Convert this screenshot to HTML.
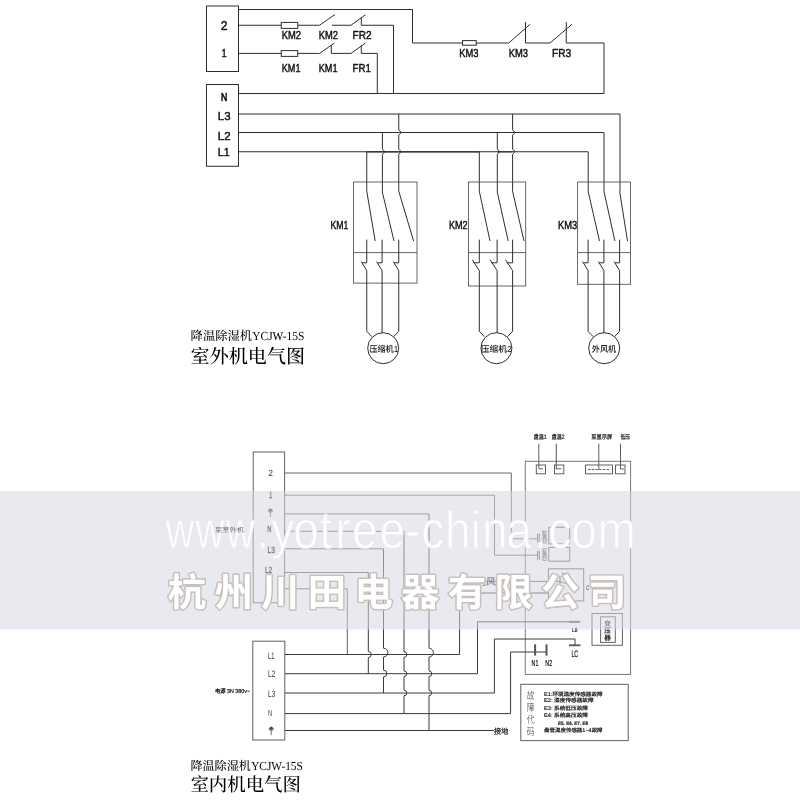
<!DOCTYPE html>
<html lang="zh-CN">
<head>
<meta charset="utf-8">
<title>降温除湿机YCJW-15S 电气图</title>
<style>
html,body{margin:0;padding:0;background:#fff;}
body{width:800px;height:800px;overflow:hidden;}
svg{display:block;}
text{text-rendering:geometricPrecision;}
svg g, svg text{will-change:opacity;}
.s{font-family:"Liberation Sans","Noto Sans CJK SC",sans-serif;}
.k{font-family:"Liberation Sans","Noto Sans CJK SC",sans-serif;}
.f{font-family:"Liberation Serif","Noto Serif CJK SC",serif;}
.b{font-weight:bold;}
.wb{font-weight:500;}
path,rect,circle{vector-effect:none;}
</style>
</head>
<body>
<svg width="800" height="800" viewBox="0 0 800 800">
<rect width="800" height="800" fill="#fff"/>
<g id="outdoor" fill="none" stroke="#2e2e2e">
<rect x="206.5" y="6" width="32" height="65.5" stroke-width="1" fill="none"/>
<rect x="206.5" y="84.5" width="32" height="81.75" stroke-width="1" fill="none"/>
<path d="M238.5 9.5 L412.5 9.5 L412.5 43 L462.5 43" stroke-width="1"/>
<rect x="462.5" y="40.6" width="13.75" height="4.6" stroke-width="1" fill="none"/>
<path d="M476.25 43 L508.75 43 L530 24.25" stroke-width="1"/>
<path d="M525.5 22 L525.5 43 L550 43 L572 24.25" stroke-width="1"/>
<path d="M566.25 22 L566.25 43 L604 43 L604 93.5" stroke-width="1"/>
<path d="M238.5 25.25 L281.25 25.25" stroke-width="1"/>
<rect x="281.25" y="22.4" width="16.5" height="6" stroke-width="1" fill="none"/>
<path d="M297.75 25.25 L319.5 25.25 L335 14.5" stroke-width="1"/>
<path d="M332 25.25 L351 25.25 L365.5 14.8" stroke-width="1"/>
<path d="M361.3 17.5 L361.3 25.25 L393.5 25.25 L393.5 93.5" stroke-width="1"/>
<path d="M238.5 53.4 L281.25 53.4" stroke-width="1"/>
<rect x="281.25" y="50.6" width="16.5" height="5.8" stroke-width="1" fill="none"/>
<path d="M297.75 53.4 L319.5 53.4 L334.5 43" stroke-width="1"/>
<path d="M331.3 45 L331.3 53.4 L351 53.4 L365.5 43" stroke-width="1"/>
<path d="M361.3 45.5 L361.3 53.4 L377.3 53.4 L377.3 93.5" stroke-width="1"/>
<path d="M238.5 93.5 L604 93.5" stroke-width="1"/>
<path d="M238.5 114 L620 114 L620 191.2" stroke-width="1"/>
<path d="M238.5 132.5 L604 132.5 L604 191.2" stroke-width="1"/>
<path d="M238.5 151.75 L588.2 151.75 L588.2 191.2" stroke-width="1"/>
<path d="M366.75 151.9 L479.3 151.9" stroke-width="1.1"/>
<path d="M497.3 151.9 L512.6 151.9" stroke-width="1.1"/>
<path d="M366.75 151.75 L366.75 191.2" stroke-width="1"/>
<path d="M382.4 132.5 L382.4 149.15 L384.4 151.15 L384.4 152.35 L382.4 154.35 L382.4 191.2" stroke-width="1"/>
<path d="M398.75 114 L398.75 129.9 L400.75 131.9 L400.75 133.1 L398.75 135.1 L398.75 149.15 L400.75 151.15 L400.75 152.35 L398.75 154.35 L398.75 191.2" stroke-width="1"/>
<path d="M479.3 151.75 L479.3 191.2" stroke-width="1"/>
<path d="M497.3 132.5 L497.3 149.15 L499.3 151.15 L499.3 152.35 L497.3 154.35 L497.3 191.2" stroke-width="1"/>
<path d="M512.6 114 L512.6 129.9 L514.6 131.9 L514.6 133.1 L512.6 135.1 L512.6 149.15 L514.6 151.15 L514.6 152.35 L512.6 154.35 L512.6 191.2" stroke-width="1"/>
<rect x="353.5" y="182" width="63.5" height="101.1" stroke="#555" stroke-width="0.9"/>
<path d="M353.5 252.6 L417 252.6" stroke-width="0.9" stroke="#555"/>
<path d="M366.75 191.2 L375.2 241" stroke-width="1"/>
<path d="M366.75 239.6 L366.75 262.8 L362.25 262.8" stroke-width="1"/>
<path d="M361.25 261.6 L366.75 270.6 L366.75 331.3" stroke-width="1"/>
<path d="M382.1 191.2 L394 241" stroke-width="1"/>
<path d="M382.1 239.6 L382.1 262.8 L377.6 262.8" stroke-width="1"/>
<path d="M376.6 261.6 L382.1 270.6 L382.1 331.3" stroke-width="1"/>
<path d="M398.75 191.2 L413.6 241" stroke-width="1"/>
<path d="M398.75 239.6 L398.75 262.8 L394.25 262.8" stroke-width="1"/>
<path d="M393.25 261.6 L398.75 270.6 L398.75 331.3" stroke-width="1"/>
<path d="M382.1 331 L382.1 333" stroke-width="1"/>
<path d="M366.75 331.3 L371.75 336.6" stroke-width="1"/>
<path d="M398.75 331.3 L393.75 336.6" stroke-width="1"/>
<circle cx="383.2" cy="348.2" r="15.5" stroke-width="1.0"/>
<rect x="468.5" y="182" width="57.2" height="104" stroke="#555" stroke-width="0.9"/>
<path d="M468.5 252.6 L525.7 252.6" stroke-width="0.9" stroke="#555"/>
<path d="M479.3 191.2 L490 241" stroke-width="1"/>
<path d="M479.3 239.6 L479.3 262.8 L473.3 262.8" stroke-width="1"/>
<path d="M472.3 259.8 L479.3 270.6 L479.3 331.3" stroke-width="1"/>
<path d="M497.1 191.2 L508.2 241" stroke-width="1"/>
<path d="M497.1 239.6 L497.1 262.8 L491.1 262.8" stroke-width="1"/>
<path d="M490.1 259.8 L497.1 270.6 L497.1 331.3" stroke-width="1"/>
<path d="M512.6 191.2 L524 241" stroke-width="1"/>
<path d="M512.6 239.6 L512.6 262.8 L506.6 262.8" stroke-width="1"/>
<path d="M505.6 259.8 L512.6 270.6 L512.6 331.3" stroke-width="1"/>
<path d="M497.1 331 L497.1 333" stroke-width="1"/>
<path d="M479.3 331.3 L484.3 336.6" stroke-width="1"/>
<path d="M512.6 331.3 L507.6 336.6" stroke-width="1"/>
<circle cx="496.4" cy="348.2" r="15.5" stroke-width="1.0"/>
<rect x="577.6" y="182" width="52.9" height="102.3" stroke="#555" stroke-width="0.9"/>
<path d="M577.6 252.6 L630.5 252.6" stroke-width="0.9" stroke="#555"/>
<path d="M588.1 191.2 L599.5 241" stroke-width="1"/>
<path d="M588.1 239.6 L588.1 262.8 L583.6 262.8" stroke-width="1"/>
<path d="M582.6 261.6 L588.1 270.6 L588.1 331.3" stroke-width="1"/>
<path d="M603.9 191.2 L614.9 241" stroke-width="1"/>
<path d="M603.9 239.6 L603.9 262.8 L599.4 262.8" stroke-width="1"/>
<path d="M598.4 261.6 L603.9 270.6 L603.9 331.3" stroke-width="1"/>
<path d="M619.6 191.2 L627.5 241" stroke-width="1"/>
<path d="M619.6 239.6 L619.6 262.8 L615.1 262.8" stroke-width="1"/>
<path d="M614.1 261.6 L619.6 270.6 L619.6 331.3" stroke-width="1"/>
<path d="M603.9 331 L603.9 333" stroke-width="1"/>
<path d="M588.1 331.3 L593.1 336.6" stroke-width="1"/>
<path d="M619.6 331.3 L614.6 336.6" stroke-width="1"/>
<circle cx="604.2" cy="348.2" r="15.5" stroke-width="1.0"/>
</g>
<g id="outdoor-labels" fill="#111" stroke="#111" stroke-width="0.45">
<text x="220.8" y="30.4" font-size="12.8" class="s" textLength="6.8" lengthAdjust="spacingAndGlyphs">2</text>
<text x="221.6" y="57" font-size="11.5" class="s" textLength="5.2" lengthAdjust="spacingAndGlyphs">1</text>
<text x="281.7" y="38.8" font-size="11.5" class="s" textLength="19.3" lengthAdjust="spacingAndGlyphs">KM2</text>
<text x="318.7" y="38.8" font-size="11.5" class="s" textLength="19.3" lengthAdjust="spacingAndGlyphs">KM2</text>
<text x="352.5" y="38.8" font-size="11.5" class="s" textLength="19" lengthAdjust="spacingAndGlyphs">FR2</text>
<text x="281.7" y="71.8" font-size="11.5" class="s" textLength="18.8" lengthAdjust="spacingAndGlyphs">KM1</text>
<text x="318.7" y="71.8" font-size="11.5" class="s" textLength="18.8" lengthAdjust="spacingAndGlyphs">KM1</text>
<text x="352.5" y="71.8" font-size="11.5" class="s" textLength="18.3" lengthAdjust="spacingAndGlyphs">FR1</text>
<text x="459.2" y="57" font-size="11.5" class="s" textLength="19.3" lengthAdjust="spacingAndGlyphs">KM3</text>
<text x="508.7" y="57" font-size="11.5" class="s" textLength="19.3" lengthAdjust="spacingAndGlyphs">KM3</text>
<text x="552" y="57" font-size="11.5" class="s" textLength="19.3" lengthAdjust="spacingAndGlyphs">FR3</text>
<text x="330.5" y="228.8" font-size="11.5" class="s" textLength="17.8" lengthAdjust="spacingAndGlyphs">KM1</text>
<text x="448.9" y="228.8" font-size="11.5" class="s" textLength="18.8" lengthAdjust="spacingAndGlyphs">KM2</text>
<text x="558" y="228.8" font-size="11.5" class="s" textLength="19.2" lengthAdjust="spacingAndGlyphs">KM3</text>
<text x="220.9" y="100.8" font-size="11.5" class="s" textLength="6.3" lengthAdjust="spacingAndGlyphs" stroke-width="0.7">N</text>
<text x="217.8" y="120" font-size="11.5" class="s" textLength="12.8" lengthAdjust="spacingAndGlyphs">L3</text>
<text x="217.8" y="140" font-size="11.5" class="s" textLength="12.8" lengthAdjust="spacingAndGlyphs">L2</text>
<text x="217.8" y="156.3" font-size="11.5" class="s" textLength="12" lengthAdjust="spacingAndGlyphs">L1</text>
</g>
<g id="motor-labels" fill="#111" font-weight="500">
<text x="369.4" y="351.9" font-size="8.6" class="s" textLength="28.8" lengthAdjust="spacingAndGlyphs">压缩机1</text>
<text x="480.8" y="351.9" font-size="8.6" class="s" textLength="31" lengthAdjust="spacingAndGlyphs">压缩机2</text>
<text x="591.8" y="351.9" font-size="8.6" class="s" textLength="24.5" lengthAdjust="spacingAndGlyphs">外风机</text>
</g>
<g id="titles" fill="#000" font-weight="500">
<text x="190.6" y="340.3" font-size="12.3" class="f" textLength="61.5" lengthAdjust="spacingAndGlyphs">降温除湿机</text>
<text x="252.3" y="340.3" font-size="12.3" class="f" textLength="52" lengthAdjust="spacingAndGlyphs">YCJW-15S</text>
<text x="190.6" y="362.6" font-size="19.2" class="f" textLength="114.5" lengthAdjust="spacingAndGlyphs">室外机电气图</text>
<text x="190.4" y="770.2" font-size="12.1" class="f" textLength="60.6" lengthAdjust="spacingAndGlyphs">降温除湿机</text>
<text x="251.2" y="770.2" font-size="12.1" class="f" textLength="51.6" lengthAdjust="spacingAndGlyphs">YCJW-15S</text>
<text x="190.4" y="790.6" font-size="18.6" class="f" textLength="110.5" lengthAdjust="spacingAndGlyphs">室内机电气图</text>
</g>
<g id="indoor" fill="none" stroke="#606060">
<rect x="253.2" y="452" width="31.4" height="150.8" stroke-width="1" fill="none"/>
<rect x="252.8" y="641.2" width="32" height="98.8" stroke-width="1" fill="none"/>
<rect x="525.3" y="461.3" width="105.3" height="213.1" stroke="#777" stroke-width="1"/>
<rect x="520.8" y="684.3" width="107.4" height="56.3" stroke-width="1" fill="none"/>
<path d="M284.6 473 L511.3 473 L511.3 538.8 L538 538.8" stroke-width="1" stroke="#6a6a6a"/>
<path d="M284.6 495.2 L494.5 495.2 L494.5 555.2 L538 555.2" stroke-width="1" stroke="#6a6a6a"/>
<path d="M284.6 513.9 L429 513.9" stroke-width="1"/>
<path d="M284.6 531.3 L404 531.3" stroke-width="1"/>
<path d="M284.6 548.8 L383.4 548.8" stroke-width="1"/>
<path d="M284.6 572.5 L368.4 572.5" stroke-width="1"/>
<path d="M284.6 588.8 L347.3 588.8 L347.3 654.5" stroke-width="1"/>
<path d="M368.3 572.5 L368.3 651.5 A3 3 0 0 1 368.3 657.5 L368.3 673.7" stroke-width="1" stroke="#3a3a3a"/>
<path d="M383.5 548.8 L383.5 648.2 A4.4 4.4 0 0 1 383.5 657 L383.5 670.1 A3.4 3.4 0 0 1 383.5 676.9 L383.5 693" stroke-width="1" stroke="#3a3a3a"/>
<path d="M404 531.3 L404 651.7 A2.8 2.8 0 0 1 404 657.3 L404 670.9 A2.8 2.8 0 0 1 404 676.5 L404 690.2 A2.8 2.8 0 0 1 404 695.8 L404 713.6" stroke-width="1" stroke="#3a3a3a"/>
<path d="M429 513.9 L429 648.2 A4.4 4.4 0 0 1 429 657 L429 670.9 A2.8 2.8 0 0 1 429 676.5 L429 690.4 A2.6 2.6 0 0 1 429 695.6 L429 730.5" stroke-width="1" stroke="#3a3a3a"/>
<path d="M284.8 654.5 L459.6 654.5 L459.6 593 L548.4 593" stroke-width="1" stroke="#3a3a3a"/>
<path d="M284.8 673.7 L477.5 673.7 L477.5 621.8 L579.5 621.8" stroke-width="1" stroke="#3a3a3a"/>
<path d="M284.8 693 L494.4 693 L494.4 639 L575 639 L575 645.3" stroke-width="1" stroke="#3a3a3a"/>
<path d="M284.8 713.6 L510.6 713.6 L510.6 652 L546.5 652" stroke-width="1" stroke="#3a3a3a"/>
<path d="M284.8 730.5 L494 730.5" stroke-width="1" stroke="#3a3a3a"/>
<path d="M478 581.4 L560 581.4" stroke-width="1"/>
<rect x="548.8" y="527.3" width="20.9" height="16.6" stroke-width="1" fill="none"/>
<rect x="548.8" y="547.5" width="20.9" height="13.7" stroke-width="1" fill="none"/>
<rect x="548.4" y="568.8" width="35.3" height="32.1" stroke-width="1" fill="none"/>
<path d="M560 576 L560 587" stroke-width="1.2"/>
<path d="M560 581.4 L577 587.5" stroke-width="1"/>
<rect x="592" y="613.5" width="30.4" height="31.8" stroke-width="1" fill="none"/>
<rect x="600.6" y="616.8" width="14.7" height="25.6" stroke-width="1" fill="none"/>
<path d="M537.6 533.7 L537.6 542.7" stroke-width="1"/>
<path d="M539.3 533.7 L539.3 542.7" stroke-width="1"/>
<path d="M537.6 550.7 L537.6 559.7" stroke-width="1"/>
<path d="M539.3 550.7 L539.3 559.7" stroke-width="1"/>
<path d="M569 621.8 L580 621.8" stroke-width="1.8" stroke="#555"/>
<path d="M569 645.3 L580.5 645.3" stroke-width="1.8" stroke="#555"/>
<path d="M535.1 644.3 L535.1 655.6" stroke-width="2" stroke="#555"/>
<path d="M546.5 644.3 L546.5 655.6" stroke-width="2" stroke="#555"/>
<rect x="536.3" y="465" width="9.2" height="8.8" stroke-width="1" fill="none"/>
<rect x="554.5" y="465" width="9.3" height="8.8" stroke-width="1" fill="none"/>
<rect x="585.5" y="465" width="27" height="8.8" stroke-width="1" fill="none"/>
<rect x="615.5" y="465" width="9.5" height="8.8" stroke-width="1" fill="none"/>
<path d="M538.8 443.7 L538.8 468.8 L543 468.8" stroke-width="1"/>
<path d="M556.3 443.7 L556.3 468.8 L561.5 468.8" stroke-width="1.1"/>
<path d="M598.8 443.7 L598.8 470" stroke-width="1"/>
<path d="M588 469.5 L610 469.5" stroke-width="1" stroke-dasharray="2.5 1.2"/>
<path d="M620.5 443.7 L620.5 469 L624 469" stroke-width="1"/>
<path d="M268.1 511.4 Q268.4 508.8 270.4 508.6 Q272.4 508.8 272.7 511.4 Z" fill="#444" stroke-width="0.4"/>
<path d="M268.4 512 L272.4 512" stroke-width="0.8"/>
<path d="M270.4 512 L270.4 517" stroke-width="0.9"/>
<path d="M268.9 729.5 Q269.2 726.9 271.2 726.7 Q273.2 726.9 273.5 729.5 Z" fill="#444" stroke-width="0.4"/>
<path d="M269.2 730.1 L273.2 730.1" stroke-width="0.8"/>
<path d="M271.2 730.1 L271.2 735.1" stroke-width="0.9"/>
</g>
<g id="indoor-labels" fill="#111" stroke="#111" stroke-width="0.2">
<text x="268.6" y="475.8" font-size="9" class="s" textLength="4.4" lengthAdjust="spacingAndGlyphs" fill="#333" stroke="none">2</text>
<g id="band-labels" fill="#000" stroke="#000" stroke-width="0.3">
<text x="269.2" y="498" font-size="9" class="s" textLength="3" lengthAdjust="spacingAndGlyphs">1</text>
<text x="267.2" y="531.8" font-size="9" class="s" textLength="4.2" lengthAdjust="spacingAndGlyphs">N</text>
<text x="267.6" y="553" font-size="9" class="s" textLength="7.4" lengthAdjust="spacingAndGlyphs">L3</text>
<text x="265" y="572.6" font-size="9" class="s" textLength="7.2" lengthAdjust="spacingAndGlyphs">L2</text>
<text x="265" y="591.5" font-size="9" class="s" textLength="6.4" lengthAdjust="spacingAndGlyphs">L1</text>
<text x="466.5" y="584.6" font-size="9.6" class="k" textLength="39" lengthAdjust="spacingAndGlyphs" stroke-width="0.1">室内风机</text>
</g>
<text x="268.1" y="658.6" font-size="9.4" class="s" textLength="6.4" lengthAdjust="spacingAndGlyphs" fill="#333" stroke="none">L1</text>
<text x="268.1" y="677.2" font-size="9.4" class="s" textLength="7.1" lengthAdjust="spacingAndGlyphs" fill="#333" stroke="none">L2</text>
<text x="268.1" y="697.4" font-size="9.4" class="s" textLength="7.1" lengthAdjust="spacingAndGlyphs" fill="#333" stroke="none">L3</text>
<text x="268" y="715.5" font-size="8.8" class="s" textLength="4" lengthAdjust="spacingAndGlyphs" fill="#333" stroke="none">N</text>
<text x="215" y="692.6" font-size="5.6" class="k" textLength="35" lengthAdjust="spacingAndGlyphs">电源 3N  380v~</text>
<text x="533.7" y="439.4" font-size="6.3" class="k" textLength="12.8" lengthAdjust="spacingAndGlyphs">盘温1</text>
<text x="551.7" y="439.4" font-size="6.3" class="k" textLength="12.8" lengthAdjust="spacingAndGlyphs">盘温2</text>
<text x="591.2" y="439.4" font-size="6.3" class="k" textLength="21" lengthAdjust="spacingAndGlyphs">至显示屏</text>
<text x="620.5" y="439.4" font-size="6.3" class="k" textLength="9.6" lengthAdjust="spacingAndGlyphs">低压</text>
<text x="494" y="733.6" font-size="7.6" class="k" textLength="14.4" lengthAdjust="spacingAndGlyphs">接地</text>
<text x="531.6" y="665.8" font-size="8.6" class="s" textLength="6.8" lengthAdjust="spacingAndGlyphs">N1</text>
<text x="545.2" y="665.8" font-size="8.6" class="s" textLength="7" lengthAdjust="spacingAndGlyphs">N2</text>
<text x="571.4" y="656.7" font-size="9.4" class="s" textLength="6.8" lengthAdjust="spacingAndGlyphs">LC</text>
<text x="572" y="632" font-size="6" class="s" textLength="5.4" lengthAdjust="spacingAndGlyphs">L8</text>
<text x="562" y="576.5" font-size="6.2" class="s" textLength="6" lengthAdjust="spacingAndGlyphs">NO</text>
<text x="586" y="590" font-size="6.4" class="s" textLength="3.4" lengthAdjust="spacingAndGlyphs">C</text>
<text class="s" font-size="6" textLength="13" lengthAdjust="spacingAndGlyphs" transform="translate(546.6 543.6) rotate(-90)">COMP2</text>
<text class="s" font-size="6" textLength="13" lengthAdjust="spacingAndGlyphs" transform="translate(546.6 561) rotate(-90)">COMP1</text>
<text x="604.3" y="625.6" font-size="6.6" class="k">变</text>
<text x="604.3" y="633" font-size="6.6" class="k">压</text>
<text x="604.3" y="640.4" font-size="6.6" class="k">器</text>
<text x="526.8" y="699.2" font-size="10" class="k" textLength="7.8" lengthAdjust="spacingAndGlyphs" fill="#333" font-weight="300" stroke="none">故</text>
<text x="526.8" y="711" font-size="10" class="k" textLength="7.8" lengthAdjust="spacingAndGlyphs" fill="#333" font-weight="300" stroke="none">障</text>
<text x="526.8" y="722.8" font-size="10" class="k" textLength="7.8" lengthAdjust="spacingAndGlyphs" fill="#333" font-weight="300" stroke="none">代</text>
<text x="526.8" y="734.6" font-size="10" class="k" textLength="7.8" lengthAdjust="spacingAndGlyphs" fill="#333" font-weight="300" stroke="none">码</text>
</g>
<g id="codes" fill="#111" font-weight="500" stroke="#111" stroke-width="0.15">
<text x="544" y="696" font-size="5.3" class="k" textLength="58.6" lengthAdjust="spacingAndGlyphs">E1:环境温度传感器故障</text>
<text x="544" y="702.2" font-size="5.3" class="k" textLength="49.7" lengthAdjust="spacingAndGlyphs">E2: 湿度传感器故障</text>
<text x="544" y="709.8" font-size="5.3" class="k" textLength="44" lengthAdjust="spacingAndGlyphs">E3: 系统低压故障</text>
<text x="544" y="716.8" font-size="5.3" class="k" textLength="44" lengthAdjust="spacingAndGlyphs">E4: 系统高压故障</text>
<text x="558" y="725.2" font-size="4.9" class="k b" textLength="30" lengthAdjust="spacingAndGlyphs">E5. E6. E7. E8</text>
<text x="544" y="731.8" font-size="5.3" class="k" textLength="58.6" lengthAdjust="spacingAndGlyphs">盘管温度传感器1~4故障</text>
</g>
<rect id="band" x="0" y="491" width="800" height="138.6" fill="#d7d9e2" fill-opacity="0.55"/>
<g id="wm-url" class="s" font-size="46" fill="#fff" stroke="#e9eaef" stroke-width="0.9">
<text transform="translate(165.6 548.3) scale(0.87 1.144)" x="0 34.5 69" y="0">www</text>
<text transform="translate(0 548.3) scale(1 1.144)" x="256.55 271.3 293.2 319.4 335.2 351.95 379.45 405 421.3 445.05 470.8 482.05 506.3 534.05 548.15 571.3 597.45" y="0">.yotree-china.com</text>
</g>
<text id="wm-name" class="k" font-weight="700" x="167.7 214.4 261.1 307.7 354.4 401.1 447.8 494.5 541.1 587.8" y="606" font-size="38.4" fill="#fff" stroke="#c9c1be" stroke-width="3.1" stroke-linejoin="round" paint-order="stroke">杭州川田电器有限公司</text>
<text x="215" y="531.6" font-size="6.4" class="k" textLength="29" lengthAdjust="spacingAndGlyphs" fill="#6e6e72" id="lbl-outdoor">至室外机</text>
</svg>
</body>
</html>
